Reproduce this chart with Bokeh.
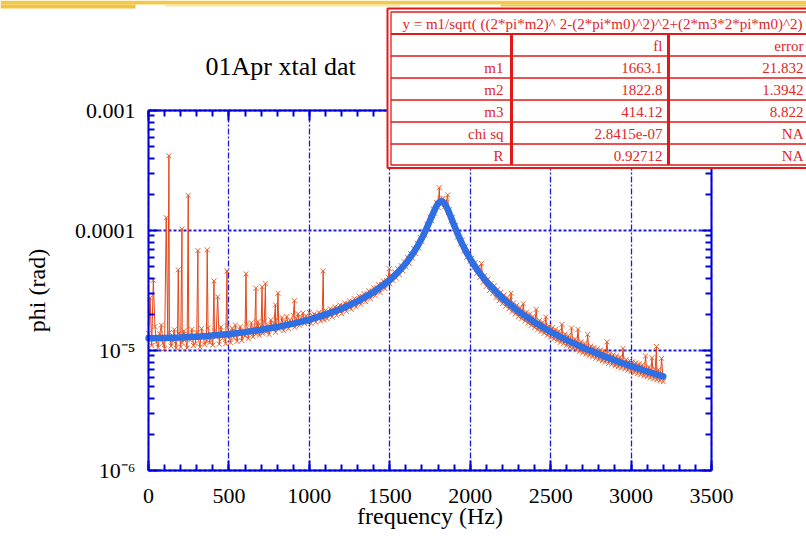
from bokeh.plotting import figure
from bokeh.models import (Range1d, LinearAxis, LogAxis, SingleIntervalTicker, FixedTicker,
                          CustomJSTickFormatter, Label, BoxAnnotation)
from bokeh.embed import file_html
from bokeh.resources import INLINE

# ---------------- data ----------------
freq_hz = [0, 10, 20, 30, 40, 50, 60, 70, 80, 90, 100, 110, 120, 127, 130, 140, 150, 160, 170, 180, 185,
           190, 200, 208, 210, 220, 230, 240, 247, 250, 260, 270, 280, 290, 300, 307, 310, 320, 330, 340,
           350, 360, 365, 370, 380, 390, 400, 407, 410, 420, 430, 440, 450, 460, 470, 480, 488, 490, 500,
           510, 520, 530, 540, 550, 560, 570, 580, 590, 600, 606, 610, 620, 630, 640, 650, 660, 668, 670,
           680, 690, 700, 706, 710, 720, 727, 730, 740, 750, 760, 770, 780, 789, 790, 800, 805, 810, 820,
           830, 840, 850, 860, 870, 880, 890, 900, 907, 910, 920, 930, 940, 950, 960, 970, 980, 990, 1000,
           1010, 1020, 1030, 1040, 1050, 1060, 1070, 1080, 1086, 1090, 1100, 1110, 1120, 1130, 1140, 1150,
           1160, 1170, 1180, 1190, 1200, 1210, 1220, 1230, 1240, 1250, 1260, 1270, 1280, 1290, 1300, 1310,
           1320, 1330, 1340, 1350, 1360, 1370, 1380, 1390, 1400, 1410, 1420, 1430, 1440, 1450, 1460, 1470,
           1480, 1490, 1497, 1500, 1510, 1520, 1530, 1540, 1550, 1560, 1570, 1580, 1590, 1600, 1610, 1620,
           1630, 1640, 1650, 1660, 1670, 1680, 1690, 1700, 1710, 1720, 1730, 1740, 1750, 1760, 1770, 1780,
           1790, 1800, 1808, 1810, 1820, 1830, 1840, 1850, 1860, 1865, 1870, 1880, 1890, 1900, 1910, 1920,
           1930, 1940, 1950, 1960, 1970, 1980, 1990, 2000, 2010, 2020, 2030, 2040, 2050, 2060, 2070, 2080,
           2090, 2100, 2110, 2120, 2130, 2140, 2150, 2160, 2170, 2180, 2190, 2200, 2210, 2220, 2230, 2240,
           2250, 2254, 2260, 2270, 2280, 2290, 2300, 2310, 2320, 2330, 2340, 2350, 2360, 2370, 2380, 2390,
           2400, 2410, 2420, 2430, 2440, 2450, 2460, 2470, 2480, 2490, 2500, 2510, 2520, 2530, 2540, 2550,
           2560, 2570, 2580, 2590, 2600, 2610, 2620, 2630, 2640, 2650, 2660, 2670, 2680, 2690, 2700, 2710,
           2720, 2730, 2740, 2750, 2760, 2770, 2780, 2790, 2800, 2810, 2820, 2830, 2840, 2850, 2860, 2870,
           2880, 2890, 2900, 2910, 2920, 2930, 2940, 2950, 2960, 2970, 2980, 2990, 3000, 3010, 3020, 3030,
           3040, 3050, 3060, 3070, 3080, 3090, 3100, 3110, 3120, 3130, 3140, 3150, 3158, 3160, 3170, 3180,
           3190, 3200]

# measured phi in micro-radians
phi_urad = [13.9, 27.5, 11.0, 38.5, 15.8, 11.8, 10.6, 13.8, 16.3, 11.5, 10.4, 128, 12.4, 420, 14.1, 10.9,
            12.1, 14.9, 10.5, 13.0, 47, 14.0, 10.7, 103, 11.6, 14.6, 12.5, 10.5, 196, 13.5, 12.2, 15.0,
            11.0, 11.4, 14.1, 68, 12.8, 10.7, 15.2, 13.0, 11.2, 12.0, 69, 15.4, 11.6, 13.6, 11.1, 38, 14.6,
            13.0, 28, 11.3, 15.7, 12.6, 13.8, 11.4, 46, 16.0, 13.3, 11.6, 15.3, 12.8, 16.3, 11.9, 14.0,
            15.8, 12.1, 14.5, 13.2, 43.5, 16.6, 12.6, 14.9, 17.0, 13.0, 15.3, 33, 13.7, 17.4, 13.4, 16.0,
            34, 13.9, 17.6, 36, 14.2, 16.3, 13.6, 18.0, 15.2, 16.8, 24, 14.2, 18.2, 30, 15.0, 16.2, 18.8,
            14.6, 17.3, 19.2, 15.2, 17.9, 16.3, 19.6, 26, 15.6, 18.4, 20.2, 16.2, 18.7, 20.5, 16.8, 19.4,
            17.0, 20.8,
            16.8, 19.4, 20.1, 17.2, 19.6, 20.8, 17.6, 20.3, 46, 18.0, 21.5, 18.4, 21.0, 22.3, 19.0, 21.9,
            23.1, 19.6, 22.7, 23.9, 20.3, 23.5, 24.9, 21.2, 24.5, 25.9, 22.1, 25.5, 27.0, 23.1, 26.7, 28.3,
            24.2, 28.0, 29.8, 25.5, 29.5, 31.4, 26.9, 31.2, 33.3, 28.6, 33.2, 35.4, 30.4, 35.5, 37.9, 32.7,
            38.2, 40.8, 48,
            36.0, 42.4, 38.3, 45.3, 40.2, 48.0, 42.8, 51.0, 46.3, 54.9, 49.6, 59.5, 53.5, 64.2, 58.8, 70.6,
            64.2, 78.4, 71.5, 87.4, 80.8, 98.8, 91.5, 113, 105, 130, 121, 151, 139, 171, 156, 227, 183, 164,
            185, 157, 171, 198, 141, 149, 120, 128, 103, 110, 88, 95, 77, 83, 67.5, 73.2, 60.0, 65.3,
            55.5, 58.9, 48.6, 53.8, 44.0, 49.2, 40.6, 53, 37.0, 42.0, 34.2, 39.4, 31.6, 36.2, 29.8, 34.6,
            27.6, 32.4, 26.0, 30.6, 24.6, 29.0, 23.4, 27.6, 22.2, 26.3, 30, 21.1, 25.0, 20.2, 23.8, 19.2,
            22.7, 18.4, 24.5, 17.6, 20.9, 16.9, 20.1, 16.2, 19.2, 15.5, 22, 14.9, 17.8, 14.4, 17.2, 13.9,
            19.0, 13.4, 16.0, 12.9, 15.5, 12.5, 15.0, 12.1, 14.5, 11.7, 16.5, 11.4, 13.7, 11.0, 13.3, 10.7,
            15.4, 10.4, 12.5, 10.1, 15, 9.85, 11.8, 9.55, 11.5, 9.3, 13.6, 9.1, 10.9, 8.85, 10.6, 8.6, 10.35,
            8.4, 10.1, 8.2, 9.85, 8.0, 11.8, 7.8, 9.4, 7.65, 9.2, 7.45, 9.0, 7.3, 8.8, 7.15, 10.4, 7.0, 8.4,
            6.85, 8.25, 6.7, 8.05, 6.55, 7.9, 6.4, 7.75, 6.3, 7.6, 6.15, 9.0, 6.05, 7.3, 5.9, 8.7, 5.8, 7.0,
            10.8, 5.7, 6.9, 5.6, 8.6, 5.5]

fit_freq_hz = [0, 100, 200, 300, 400, 500, 600, 700, 800, 900, 1000, 1100, 1200, 1300, 1400, 1500, 1550,
               1600, 1650, 1675, 1700, 1720, 1750, 1760, 1780, 1790, 1800, 1810, 1820, 1830, 1840, 1850,
               1860, 1870, 1880, 1900, 1920, 1940, 1950, 1975, 2000, 2050, 2100, 2200, 2300, 2400, 2500,
               2600, 2700, 2800, 2900, 3000, 3100, 3200]
fit_phi_urad = [12.68, 12.72, 12.83, 13.03, 13.32, 13.71, 14.22, 14.87, 15.71, 16.77, 18.11, 19.90, 22.30,
                25.67, 30.64, 38.63, 44.70, 53.25, 66.00, 74.94, 86.48, 98.2, 121.2, 130.4, 150.0, 159.6,
                167.7, 173.3, 175.4, 173.6, 168.1, 159.9, 150.0, 139.6, 129.2, 110.5, 95.07, 82.65, 77.39,
                66.46, 57.96, 45.77, 37.55, 27.27, 21.16, 17.14, 14.30, 12.20, 10.58, 9.295, 8.258, 7.403,
                6.687, 6.079]

xtick_values = [0, 500, 1000, 1500, 2000, 2500, 3000, 3500]
ytick_values = [1e-6, 1e-5, 1e-4, 1e-3]
ytick_labels = ["10\u207b\u2076", "10\u207b\u2075", "0.0001", "0.001"]

title_text = "01Apr xtal dat"
fit_formula = "y = m1/sqrt( ((2*pi*m2)^ 2-(2*pi*m0)^2)^2+(2*m3*2*pi*m0)^2)"
table_header = ["", "fl", "error"]
param_names = ["m1", "m2", "m3", "chi sq", "R"]
param_values = ["1663.1", "1822.8", "414.12", "2.8415e-07", "0.92712"]
param_errors = ["21.832", "1.3942", "8.822", "NA", "NA"]

assert len(freq_hz) == len(phi_urad)
phi = [v * 1e-6 for v in phi_urad]
fit_phi = [v * 1e-6 for v in fit_phi_urad]

# ---------------- layout ----------------
W, H = 806, 536
PL, PR, PT, PB = 148, 711, 110, 470       # plot box in canvas pixels
XMIN, XMAX = xtick_values[0], xtick_values[-1]
LOG_LO, LOG_HI = -6, -3
kx = (XMAX - XMIN) / (PR - PL)            # Hz per pixel
ky = (LOG_HI - LOG_LO) / (PB - PT)        # decades per pixel
x_range = Range1d(XMIN - PL * kx, XMIN + (W - PL) * kx)
y_range = Range1d(10 ** (LOG_LO - (H - PB) * ky), 10 ** (LOG_HI + PT * ky))

FONT = "Liberation Serif"
AXC = "#0000dd"
GRIDC = "#1c1cd8"
RED = "#e4461a"
RED_M = "#e8602e"
BLUE = "#2f6fe4"
TRED = "#e0252a"
LRED = "#e31818"

p = figure(width=W, height=H, y_axis_type="log", x_range=x_range, y_range=y_range,
           output_backend="svg", toolbar_location=None, min_border=0)
p.min_border_left = p.min_border_right = p.min_border_top = p.min_border_bottom = 0
p.title.visible = False
p.background_fill_color = "white"
p.border_fill_color = "white"
p.outline_line_color = None

xticker = SingleIntervalTicker(interval=500, num_minor_ticks=5)
yminor = [m * d for d in ytick_values[:-1] for m in range(2, 10)]
yticker = FixedTicker(ticks=ytick_values, minor_ticks=yminor)
yfmt = CustomJSTickFormatter(args=dict(vals=ytick_values, labs=ytick_labels), code="""
    let best = 0, d = Infinity;
    for (let i = 0; i < vals.length; i++) {
        const dd = Math.abs(Math.log10(tick) - Math.log10(vals[i]));
        if (dd < d) { d = dd; best = i; }
    }
    return labs[best];
""")
blank = CustomJSTickFormatter(code="return '';")


def style_axis(ax):
    ax.axis_line_color = AXC
    ax.axis_line_width = 2
    ax.major_tick_line_color = AXC
    ax.minor_tick_line_color = AXC
    ax.major_tick_line_width = 2
    ax.minor_tick_line_width = 2
    ax.major_tick_in = 10
    ax.major_tick_out = 0
    ax.minor_tick_in = 6
    ax.minor_tick_out = 0
    ax.major_label_text_font = FONT
    ax.major_label_text_font_size = "22px"
    ax.major_label_text_color = "black"
    ax.axis_label_text_font = FONT
    ax.axis_label_text_font_style = "normal"
    ax.axis_label_text_font_size = "24px"
    ax.axis_label_text_color = "black"


xa = p.xaxis[0]
xa.ticker = xticker
style_axis(xa)
xa.bounds = (XMIN, XMAX)
xa.fixed_location = ytick_values[0]
xa.major_label_standoff = 18
xa.axis_label = "frequency (Hz)"
xa.axis_label_standoff = -3

ya = p.yaxis[0]
ya.ticker = yticker
ya.formatter = yfmt
style_axis(ya)
ya.bounds = (ytick_values[0], ytick_values[-1])
ya.fixed_location = XMIN
ya.major_label_standoff = 13
ya.axis_label = "phi (rad)"
ya.axis_label_standoff = 22

top_ax = LinearAxis(ticker=xticker, formatter=blank)
style_axis(top_ax)
top_ax.bounds = (XMIN, XMAX)
top_ax.fixed_location = ytick_values[-1]
top_ax.major_label_standoff = 0
p.add_layout(top_ax, "above")

right_ax = LogAxis(ticker=yticker, formatter=blank)
style_axis(right_ax)
right_ax.bounds = (ytick_values[0], ytick_values[-1])
right_ax.fixed_location = XMAX
right_ax.major_label_standoff = 0
p.add_layout(right_ax, "right")

xg = p.xgrid[0]
yg = p.ygrid[0]
xg.ticker = xticker
yg.ticker = yticker
xg.bounds = (XMIN, XMAX)
yg.bounds = (ytick_values[0], ytick_values[-1])
xg.grid_line_color = GRIDC
xg.grid_line_width = 1.3
xg.grid_line_dash = "6 2 2 2"
yg.grid_line_color = GRIDC
yg.grid_line_width = 2
yg.grid_line_dash = "3 2"
if "cross_bounds" in xg.properties():
    xg.cross_bounds = (ytick_values[0], ytick_values[-1])
    yg.cross_bounds = (XMIN, XMAX)
else:
    xg.visible = False
    yg.visible = False
    gx = xtick_values[1:-1]
    p.segment(x0=gx, y0=[ytick_values[0]] * len(gx), x1=gx, y1=[ytick_values[-1]] * len(gx),
              line_color=GRIDC, line_width=1.3, line_dash="6 2 2 2")
    gy = ytick_values[1:-1]
    p.segment(x0=[XMIN] * len(gy), y0=gy, x1=[XMAX] * len(gy), y1=gy,
              line_color=GRIDC, line_width=2, line_dash="3 2")

# ---------------- data renderers ----------------
p.line(freq_hz, phi, color=RED, line_width=1)
p.scatter(freq_hz, phi, marker="x", size=7, color=RED_M, line_width=1)
p.line(fit_freq_hz, fit_phi, color=BLUE, line_width=6.5, line_cap="round", line_join="round")


# ---------------- annotations (canvas px -> screen units; frame == canvas) ----------------
def box(x0, x1, y0, y1, fill=None, line=None, lw=0.0, alpha=1.0):
    b = BoxAnnotation(left=x0, right=x1, top=H - y0, bottom=H - y1,
                      left_units="screen", right_units="screen",
                      top_units="screen", bottom_units="screen",
                      fill_color=fill, fill_alpha=alpha if fill else 0.0,
                      line_color=line, line_width=lw, line_alpha=1.0 if line else 0.0)
    p.add_layout(b)


def label(x, y, text, size="15px", align="right", color=TRED, baseline="middle"):
    p.add_layout(Label(x=x, y=H - y, x_units="screen", y_units="screen", text=text,
                       text_font=FONT, text_font_size=size, text_color=color,
                       text_align=align, text_baseline=baseline))


# yellow slide banner at the top
box(0, 806, 0, 4, fill="#f2c94a")
box(0, 135, 4, 8, fill="#f1c33f")
box(165, 400, 4, 6, fill="#f8e49a")
box(500, 806, 4, 6, fill="#f0c845")

# title
label(205, 65.5, title_text, size="26px", align="left", color="black", baseline="alphabetic")

# fit table
box(387, 815, 8, 167.5, fill="white", line=LRED, lw=2)
box(390.5, 815, 11.5, 164.5, line=LRED, lw=1.3)
row_edges = [33.5, 55.5, 77.5, 99.5, 121.5, 143.5, 164.5]
box(390.5, 815, row_edges[0] - 1, row_edges[0] + 1, fill=LRED)
for yy in row_edges[1:-1]:
    box(390.5, 815, yy - 0.7, yy + 0.7, fill=LRED)
for xx in (511, 668):
    box(xx - 1.5, xx + 1.5, row_edges[0], row_edges[-1], fill=LRED)

label(602, 23, fit_formula, align="center")
col_right = [503, 662, 803]
yc = (row_edges[0] + row_edges[1]) / 2 + 1
for txt, xr in zip(table_header, col_right):
    if txt:
        label(xr, yc, txt)
for i, (nm, v, e) in enumerate(zip(param_names, param_values, param_errors)):
    yc = (row_edges[i + 1] + row_edges[i + 2]) / 2 + 1
    label(col_right[0], yc, nm)
    label(col_right[1], yc, v)
    label(col_right[2], yc, e)

open("out.html", "w").write(file_html(p, INLINE))
